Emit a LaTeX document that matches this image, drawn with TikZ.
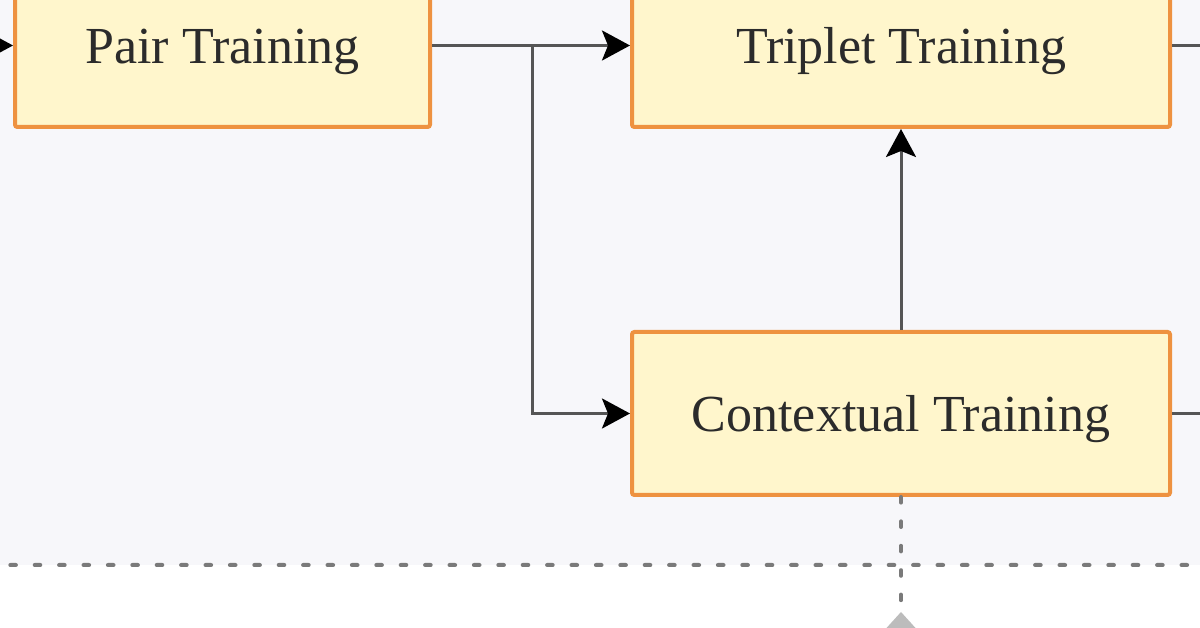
\documentclass[tikz,border=0pt]{standalone}
\usepackage{fontspec}
\setmainfont{Liberation Serif}
\usetikzlibrary{arrows.meta}
\definecolor{bg}{HTML}{F7F7FA}
\definecolor{boxfill}{HTML}{FFF6CC}
\definecolor{boxdraw}{HTML}{EE9240}
\definecolor{edgec}{HTML}{555555}
\definecolor{dotc}{HTML}{7A7A7A}
\definecolor{txt}{HTML}{2B2B2B}
\begin{document}
\begin{tikzpicture}[x=0.25pt,y=-0.25pt,
  stage/.style={draw=boxdraw, fill=boxfill, line width=1pt, minimum height=40.75pt,
    inner sep=0pt, text height=9pt, text depth=0pt,
    font=\fontsize{13}{15}\selectfont, text=txt, rounded corners=0.6pt},
  flow/.style={draw=edgec, line width=0.75pt, -{Stealth[length=7pt,width=7.5pt,inset=1.5pt,black]}},
  plainedge/.style={draw=edgec, line width=0.75pt},
  dotline/.style={draw=dotc, line width=1pt, line cap=round, dash pattern=on 1.4pt off 4.7pt},
]
\useasboundingbox (0,0) rectangle (1200,628);
\clip (0,0) rectangle (1200,628);
\fill[white] (0,0) rectangle (1200,628);
% cluster background
\path[fill=bg] (-10,-300) rectangle (1400,565);
\draw[dotline, rounded corners=4pt] (-10,-300) -- (-10,565) -- (1400,565);
% nodes
\node[stage, minimum width=103.75pt] (pair) at (222.5,45.5) {Pair Training};
\node[stage, minimum width=134.5pt] (trip) at (901,45.5) {Triplet Training};
\node[stage, minimum width=134.5pt] (ctx) at (901,413.5) {Contextual Training};
% coordinates
\coordinate (inL) at (-80,45.5);
\coordinate (br) at (532,45.5);
\coordinate (outT) at (1260,45.5);
\coordinate (outC) at (1260,413.5);
\coordinate (low) at (901,680);
% connectors
\draw[flow] (inL) -- (pair.west);
\draw[flow] (pair.east) -- (trip.west);
\draw[flow] (br) |- (ctx.west);
\draw[flow] (ctx.north) -- (trip.south);
\draw[plainedge] (trip.east) -- (outT);
\draw[plainedge] (ctx.east) -- (outC);
\draw[dotline] (ctx.south) -- (low);
\fill[dotc!50] (901,612) -- (872,644) -- (930,644) -- cycle;
\end{tikzpicture}
\end{document}
